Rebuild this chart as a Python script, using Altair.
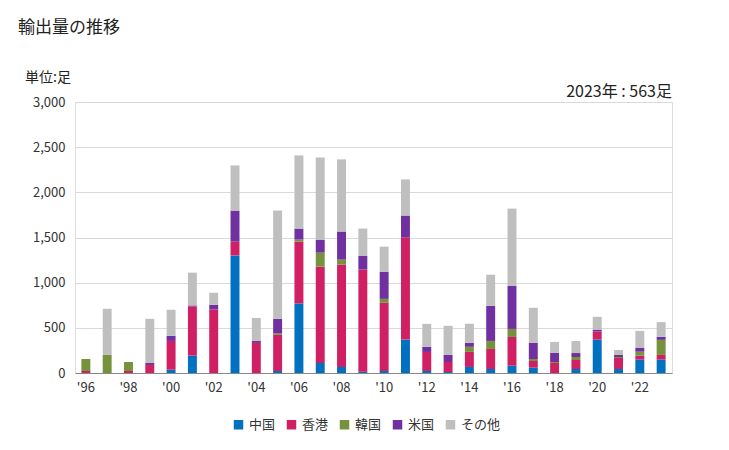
import altair as alt
import pandas as pd

years = [str(y) for y in range(1996, 2024)]
series = ["中国", "香港", "韓国", "米国", "その他"]
colors = ["#0070C0", "#D01F63", "#76923C", "#7030A0", "#BFBFBF"]

china = [0, 0, 0, 0, 37, 193, 0, 1302, 0, 22, 770, 111, 67, 15, 22, 370, 22, 11,
         67, 44, 81, 59, 0, 44, 370, 44, 148, 148]
hongkong = [22, 0, 22, 89, 318, 544, 703, 152, 333, 400, 685, 1066, 1132, 1129, 755, 1129, 211, 111,
            167, 222, 318, 74, 111, 100, 89, 122, 44, 52]
korea = [133, 200, 100, 0, 0, 0, 0, 0, 0, 15, 22, 155, 56, 0, 44, 0, 0, 0,
         56, 89, 89, 22, 11, 33, 0, 11, 44, 167]
usa = [0, 0, 0, 22, 56, 11, 52, 344, 22, 163, 122, 144, 311, 155, 300, 244, 56, 78,
       44, 389, 477, 178, 100, 44, 22, 22, 41, 33]
other = [0, 511, 0, 489, 289, 363, 133, 500, 255, 1199, 810, 910, 799, 300, 278, 400, 255, 322,
         211, 344, 855, 389, 122, 133, 141, 56, 189, 163]

rows = []
for si, (name, vals) in enumerate(zip(series, [china, hongkong, korea, usa, other])):
    for y, v in zip(years, vals):
        rows.append({"year": y, "country": name, "value": v, "order": si})
df = pd.DataFrame(rows)

FONT = "Noto Sans CJK JP"

bars = alt.Chart(df).mark_bar().encode(
    x=alt.X("year:N", title=None, sort=years,
            scale=alt.Scale(paddingInner=0.58, paddingOuter=0.3),
            axis=alt.Axis(labelAngle=0, ticks=False, domainColor="#888888",
                          labelExpr="parseInt(datum.value) % 2 == 0 ? \"'\" + substring(datum.value, 2, 4) : ''",
                          labelFontSize=13, labelColor="#333333", labelPadding=8, labelFont=FONT)),
    y=alt.Y("value:Q", title=None, stack="zero",
            scale=alt.Scale(domain=[0, 3000]),
            axis=alt.Axis(values=[0, 500, 1000, 1500, 2000, 2500, 3000], format=",.0f",
                          ticks=False, domain=False, gridColor="#D9D9D9",
                          labelFontSize=13, labelColor="#333333", labelPadding=10, labelFont=FONT)),
    color=alt.Color("country:N", sort=series,
                    scale=alt.Scale(domain=series, range=colors),
                    legend=alt.Legend(title=None, orient="none", direction="horizontal",
                                      legendX=157, legendY=316, symbolType="square",
                                      symbolSize=90, symbolStrokeWidth=0, labelFontSize=13,
                                      labelFont=FONT, labelColor="#333333", columnPadding=9,
                                      labelOffset=4, symbolOpacity=1)),
    order=alt.Order("order:Q", sort="ascending"),
)

title_df = pd.DataFrame({"t": ["輸出量の推移"]})
unit_df = pd.DataFrame({"t": ["単位:足"]})
note_df = pd.DataFrame({"t": ["2023年 : 563足"]})

title = alt.Chart(title_df).mark_text(align="left", baseline="middle", fontSize=17,
                                      font=FONT, color="#222222").encode(
    text="t:N", x=alt.value(-57), y=alt.value(-74))
unit = alt.Chart(unit_df).mark_text(align="left", baseline="middle", fontSize=14,
                                    font=FONT, color="#222222").encode(
    text="t:N", x=alt.value(-50), y=alt.value(-24))
note = alt.Chart(note_df).mark_text(align="right", baseline="middle", fontSize=16,
                                    font=FONT, color="#222222").encode(
    text="t:N", x=alt.value(597), y=alt.value(-10))

chart = alt.layer(bars, title, unit, note).properties(
    width=597, height=271,
    autosize=alt.AutoSizeParams(type="none"),
    padding={"left": 67, "top": 94, "right": 49, "bottom": 69},
).configure_view(stroke=None).configure(font=FONT)

chart.save("out.html", embed_options={"renderer": "svg", "actions": False})
